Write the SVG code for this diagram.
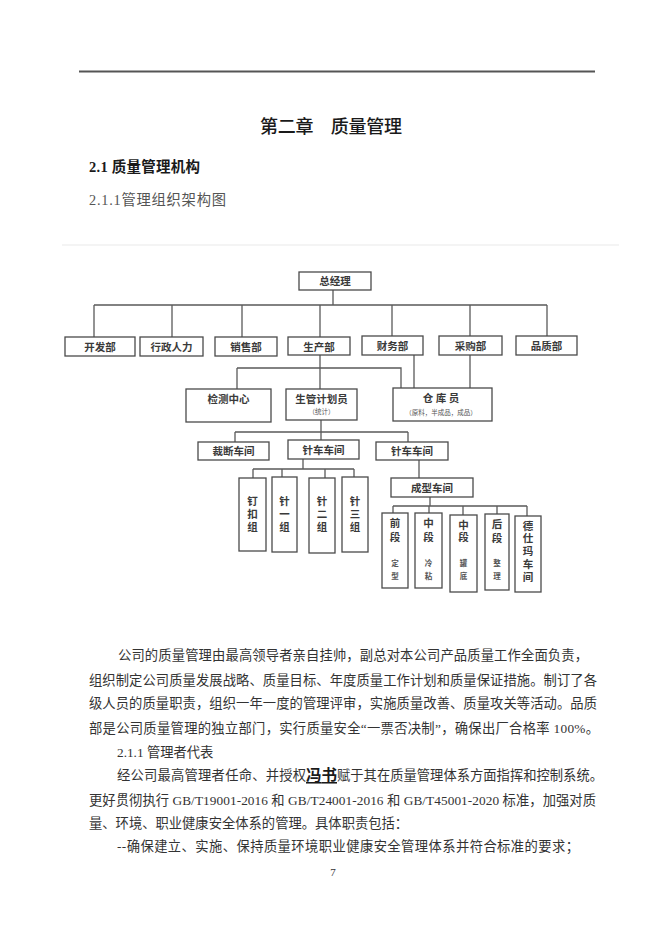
<svg xmlns="http://www.w3.org/2000/svg" width="660" height="933" viewBox="0 0 660 933">
<style>
.box{fill:#fff;stroke:#4a4a4a;stroke-width:1.3}
.ln{stroke:#5a5a5a;stroke-width:1.3;fill:none}
.lbl{font-family:"Noto Sans CJK SC",sans-serif;font-size:10.5px;font-weight:bold;fill:#3a3a3a;text-anchor:middle}
.vt{font-family:"Noto Sans CJK SC",sans-serif;font-size:10.5px;font-weight:bold;fill:#3a3a3a;writing-mode:vertical-rl;text-anchor:start}
.sm{font-family:"Noto Sans CJK SC",sans-serif;font-size:6.5px;fill:#555;text-anchor:middle}
.vs{font-family:"Noto Sans CJK SC",sans-serif;font-size:7.5px;font-weight:bold;fill:#555;writing-mode:vertical-rl;text-anchor:start;letter-spacing:5.5px}
.body{font-family:"Liberation Serif","Noto Sans CJK SC",serif;font-size:13.3px;fill:#333}
</style>
<rect width="660" height="933" fill="#fff"/>
<line x1="79" y1="71.5" x2="595" y2="71.5" stroke="#555" stroke-width="2"/>
<text x="331" y="133" text-anchor="middle" textLength="142" lengthAdjust="spacing" style="font-family:'Noto Sans CJK SC',sans-serif;font-size:18px;font-weight:500;fill:#1a1a1a">第二章　质量管理</text>
<text x="89" y="172" textLength="111" lengthAdjust="spacing" style="font-family:'Liberation Serif','Noto Sans CJK SC',serif;font-size:14.5px;font-weight:bold;fill:#1a1a1a">2.1 质量管理机构</text>
<text x="89" y="204.5" textLength="137" lengthAdjust="spacing" style="font-family:'Liberation Serif','Noto Sans CJK SC',serif;font-size:14.3px;fill:#555">2.1.1管理组织架构图</text>
<line x1="62" y1="245" x2="619" y2="245" stroke="#f0f0f0" stroke-width="1.5"/>

<g id="connectors">
<path class="ln" d="M333 290V305M94 305H547M94 305V337M172 305V337M242 305V337M320 305V337M392 305V336M470 305V336M547 305V336"/>
<path class="ln" d="M320 355V389M237 368H401V388M237 368V389M414 355V388M470 355V388"/>
<path class="ln" d="M321 420V440M235 432H408M235 432V442M408 432V442"/>
<path class="ln" d="M303 459V469M253 469H354M253 469V478M282 469V477M325 469V478M354 469V477"/>
<path class="ln" d="M419 460V478M430 497V506M393 506H527M393 506V513M429 506V513M463 506V515M497 506V514M527 506V516"/>
</g>

<g id="n-zjl"><rect class="box" x="299" y="272" width="72" height="18"/><text class="lbl" x="335" y="285">总经理</text></g>
<g id="n-kfb"><rect class="box" x="65" y="337" width="70" height="19"/><text class="lbl" x="100" y="350.5">开发部</text></g>
<g id="n-xzrl"><rect class="box" x="140" y="337" width="63" height="19"/><text class="lbl" x="171.5" y="350.5">行政人力</text></g>
<g id="n-xsb"><rect class="box" x="215" y="337" width="62" height="19"/><text class="lbl" x="246" y="350.5">销售部</text></g>
<g id="n-scb"><rect class="box" x="288" y="337" width="62" height="18"/><text class="lbl" x="319" y="350.5">生产部</text></g>
<g id="n-cwb"><rect class="box" x="362" y="336" width="61" height="19"/><text class="lbl" x="392.5" y="349.5">财务部</text></g>
<g id="n-cgb"><rect class="box" x="439" y="336" width="63" height="19"/><text class="lbl" x="470.5" y="349.5">采购部</text></g>
<g id="n-pzb"><rect class="box" x="516" y="336" width="61" height="19"/><text class="lbl" x="546.5" y="349.5">品质部</text></g>

<g id="n-jczx"><rect class="box" x="186" y="389" width="85" height="33"/><text class="lbl" x="228.5" y="403">检测中心</text></g>
<g id="n-sgjhy"><rect class="box" x="286" y="389" width="71" height="31"/><text class="lbl" x="321.5" y="403">生管计划员</text><text class="sm" x="321.5" y="413.5">（统计）</text></g>
<g id="n-cky"><rect class="box" x="393" y="388" width="99" height="33"/><text class="lbl" x="441" y="402">仓 库 员</text><text class="sm" x="441" y="414.5">（原料，半成品，成品）</text></g>

<g id="n-cdcj"><rect class="box" x="198" y="442" width="71" height="18"/><text class="lbl" x="233.5" y="455">裁断车间</text></g>
<g id="n-zccj1"><rect class="box" x="288" y="440" width="71" height="19"/><text class="lbl" x="323.5" y="454">针车车间</text></g>
<g id="n-zccj2"><rect class="box" x="376" y="442" width="72" height="18"/><text class="lbl" x="412" y="455">针车车间</text></g>

<g id="n-dkz"><rect class="box" x="239" y="478" width="27" height="73"/><text class="vt" x="252.5" y="495.5" style="letter-spacing:2.5px">钉扣组</text></g>
<g id="n-z1z"><rect class="box" x="272" y="477" width="25" height="75"/><text class="vt" x="284.5" y="495.5" style="letter-spacing:2.5px">针一组</text></g>
<g id="n-z2z"><rect class="box" x="309" y="478" width="26" height="75"/><text class="vt" x="322" y="495.5" style="letter-spacing:2.5px">针二组</text></g>
<g id="n-z3z"><rect class="box" x="342" y="477" width="26" height="75"/><text class="vt" x="355" y="495.5" style="letter-spacing:2.5px">针三组</text></g>

<g id="n-cxcj"><rect class="box" x="391" y="478" width="82" height="19"/><text class="lbl" x="432" y="492">成型车间</text></g>

<g id="n-qd"><rect class="box" x="382" y="513" width="26" height="75"/><text class="vt" x="395" y="517.5" style="letter-spacing:3.5px">前段</text><text class="vs" x="395" y="559">定型</text></g>
<g id="n-zd1"><rect class="box" x="415" y="513" width="27" height="75"/><text class="vt" x="428.5" y="517.5" style="letter-spacing:3.5px">中段</text><text class="vs" x="428.5" y="559">冷粘</text></g>
<g id="n-zd2"><rect class="box" x="450" y="515" width="27" height="77"/><text class="vt" x="463.5" y="519.5" style="letter-spacing:2px">中段</text><text class="vs" x="463.5" y="559">罐底</text></g>
<g id="n-hd"><rect class="box" x="485" y="514" width="24" height="76"/><text class="vt" x="497" y="518.5" style="letter-spacing:3.5px">后段</text><text class="vs" x="497" y="559">整理</text></g>
<g id="n-dsm"><rect class="box" x="515" y="516" width="26" height="76"/><text class="vt" x="528" y="520.5" style="letter-spacing:2.2px">德仕玛车间</text></g>

<text class="body" x="118" y="660" textLength="470" lengthAdjust="spacing">公司的质量管理由最高领导者亲自挂帅，副总对本公司产品质量工作全面负责，</text>
<text class="body" x="89" y="685" textLength="508" lengthAdjust="spacing">组织制定公司质量发展战略、质量目标、年度质量工作计划和质量保证措施。制订了各</text>
<text class="body" x="89" y="708" textLength="508" lengthAdjust="spacing">级人员的质量职责，组织一年一度的管理评审，实施质量改善、质量攻关等活动。品质</text>
<text class="body" x="89" y="733" textLength="510" lengthAdjust="spacing">部是公司质量管理的独立部门，实行质量安全“一票否决制”，确保出厂合格率 100%。</text>
<text class="body" x="117" y="757">2.1.1 管理者代表</text>
<text class="body" x="117" y="780" textLength="189" lengthAdjust="spacing">经公司最高管理者任命、并授权</text>
<text x="306" y="781" textLength="31" lengthAdjust="spacing" text-decoration="underline" style="font-family:'Noto Sans CJK SC',sans-serif;font-size:15.5px;font-weight:bold;fill:#1a1a1a">冯书</text>
<text class="body" x="337" y="780" textLength="266" lengthAdjust="spacing">赋于其在质量管理体系方面指挥和控制系统。</text>
<text class="body" x="89" y="805" textLength="507" lengthAdjust="spacing">更好贯彻执行 GB/T19001-2016 和 GB/T24001-2016 和 GB/T45001-2020 标准，加强对质</text>
<text class="body" x="89" y="828">量、环境、职业健康安全体系的管理。具体职责包括：</text>
<text class="body" x="117" y="851" textLength="462" lengthAdjust="spacing">--确保建立、实施、保持质量环境职业健康安全管理体系并符合标准的要求；</text>
<text class="body" x="333" y="876" text-anchor="middle" style="font-size:11px">7</text>
</svg>
